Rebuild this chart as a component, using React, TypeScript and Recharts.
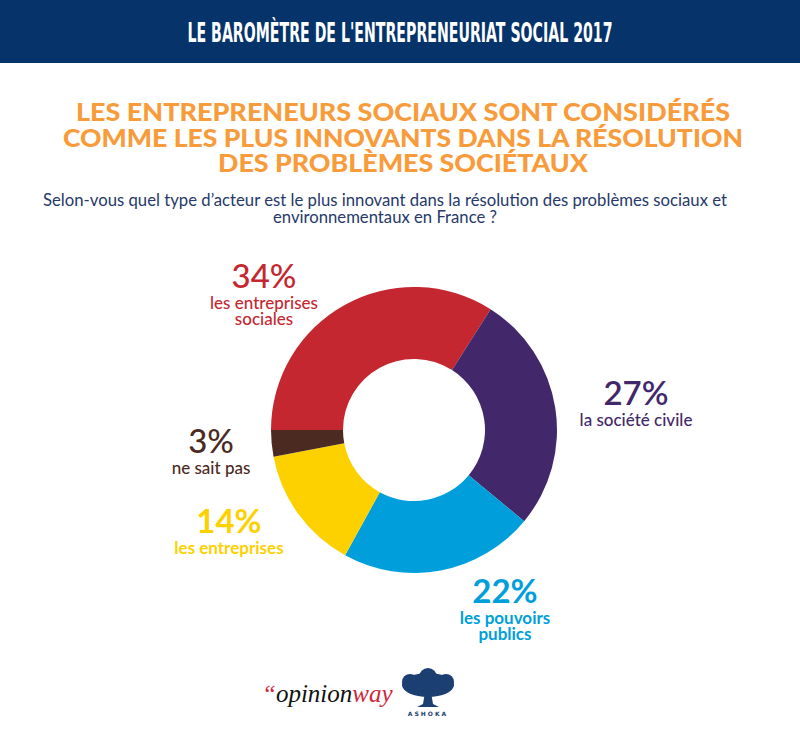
import React from "react";
import { PieChart, Pie, Cell } from "recharts";

// survey answers, percent
const CATEGORIES = [
  "les entreprises sociales",
  "la société civile",
  "les pouvoirs publics",
  "les entreprises",
  "ne sait pas",
];
const VALUES = [34, 27, 22, 14, 3];
const COLORS = ["#C4272F", "#42276A", "#009FDB", "#FDD100", "#4B2A21"];

// how each category label wraps
const LABEL_LINES = [
  ["les entreprises", "sociales"],
  ["la société civile"],
  ["les pouvoirs", "publics"],
  ["les entreprises"],
  ["ne sait pas"],
];

// label block placement relative to the donut centre (percent baseline)
const LABEL_OFFSET = [
  { dx: -150, dy: -142, pctWeight: 500, txtWeight: 500 },
  { dx: 222, dy: -25, pctWeight: 600, txtWeight: 500 },
  { dx: 91, dy: 173, pctWeight: 700, txtWeight: 700 },
  { dx: -185, dy: 103, pctWeight: 700, txtWeight: 700 },
  { dx: -203, dy: 23, pctWeight: 500, txtWeight: 500 },
];

const data = CATEGORIES.map((name, i) => ({ name, value: VALUES[i] }));

const NAVY = "#05336A";
const ORANGE = "#F89C3B";
const FONT = "Lato, 'Open Sans', sans-serif";

function SliceLabel(props: any) {
  const { cx, cy, index, value } = props;
  const o = LABEL_OFFSET[index];
  const x = cx + o.dx;
  const y = cy + o.dy;
  const color = COLORS[index];
  return (
    <g>
      <text x={x} y={y} textAnchor="middle" fill={color} fontSize={33} fontWeight={o.pctWeight} fontFamily={FONT}>
        {value}%
      </text>
      {LABEL_LINES[index].map((line, k) => (
        <text
          key={k}
          x={x}
          y={y + 21 + k * 16}
          textAnchor="middle"
          fill={color}
          fontSize={17}
          fontWeight={o.txtWeight}
          fontFamily={FONT}
        >
          {line}
        </text>
      ))}
    </g>
  );
}

function Header() {
  return (
    <svg width={800} height={735} style={{ position: "absolute", left: 0, top: 0 }}>
      <rect x={0} y={0} width={800} height={63} fill={NAVY} />
      <text
        x={400}
        y={42}
        textAnchor="middle"
        fill="#fff"
        fontSize={27}
        fontWeight={700}
        fontFamily="'Liberation Sans Narrow', 'DejaVu Sans Condensed', sans-serif"
        textLength={425}
        lengthAdjust="spacingAndGlyphs"
      >
        LE BAROMÈTRE DE L'ENTREPRENEURIAT SOCIAL 2017
      </text>

      <g fill={ORANGE} fontSize={24.5} fontWeight={900} fontFamily={FONT} textAnchor="middle">
        <text x={403} y={121} textLength={654} lengthAdjust="spacingAndGlyphs">
          LES ENTREPRENEURS SOCIAUX SONT CONSIDÉRÉS
        </text>
        <text x={403} y={147} textLength={680} lengthAdjust="spacingAndGlyphs">
          COMME LES PLUS INNOVANTS DANS LA RÉSOLUTION
        </text>
        <text x={403} y={172} textLength={370} lengthAdjust="spacingAndGlyphs">
          DES PROBLÈMES SOCIÉTAUX
        </text>
      </g>

      <g fill="#26396A" fontSize={16.5} fontFamily={FONT} textAnchor="middle">
        <text x={385} y={206} textLength={684} lengthAdjust="spacingAndGlyphs">
          Selon-vous quel type d’acteur est le plus innovant dans la résolution des problèmes sociaux et
        </text>
        <text x={385} y={223} textLength={224} lengthAdjust="spacingAndGlyphs">
          environnementaux en France ?
        </text>
      </g>

      {/* logos */}
      <text x={262} y={702} fontSize={25} fontStyle="italic" fontFamily="'Liberation Serif', serif">
        <tspan fill="#D0263A">“</tspan>
        <tspan fill="#111">opinion</tspan>
        <tspan fill="#D0263A">way</tspan>
      </text>
      <g fill="#1C3F72">
        <ellipse cx={428} cy={685} rx={26} ry={12} />
        <circle cx={410} cy={682} r={8} />
        <circle cx={446} cy={682} r={8} />
        <circle cx={428} cy={677} r={9} />
        <path d="M425 692 L423 704 L417 707 L439 707 L433 704 L431 692 Z" />
      </g>
      <text x={428} y={716} textAnchor="middle" fill="#1C3F72" fontSize={6} fontWeight={700} letterSpacing={2} fontFamily="'DejaVu Sans', sans-serif">
        ASHOKA
      </text>
    </svg>
  );
}

export default function App() {
  return (
    <div style={{ position: "absolute", left: 0, top: 0, width: 800, height: 735, background: "#fff" }}>
      <Header />
      <div style={{ position: "absolute", left: 0, top: 0 }}>
        <PieChart width={800} height={735} margin={{ top: 0, right: 0, bottom: 0, left: 0 }}>
          <Pie
            data={data}
            dataKey="value"
            nameKey="name"
            cx={414}
            cy={430}
            innerRadius={71}
            outerRadius={143}
            startAngle={180}
            endAngle={-180}
            stroke="none"
            label={SliceLabel}
            labelLine={false}
            isAnimationActive={false}
          >
            {data.map((d, i) => (
              <Cell key={d.name} fill={COLORS[i]} />
            ))}
          </Pie>
        </PieChart>
      </div>
    </div>
  );
}
